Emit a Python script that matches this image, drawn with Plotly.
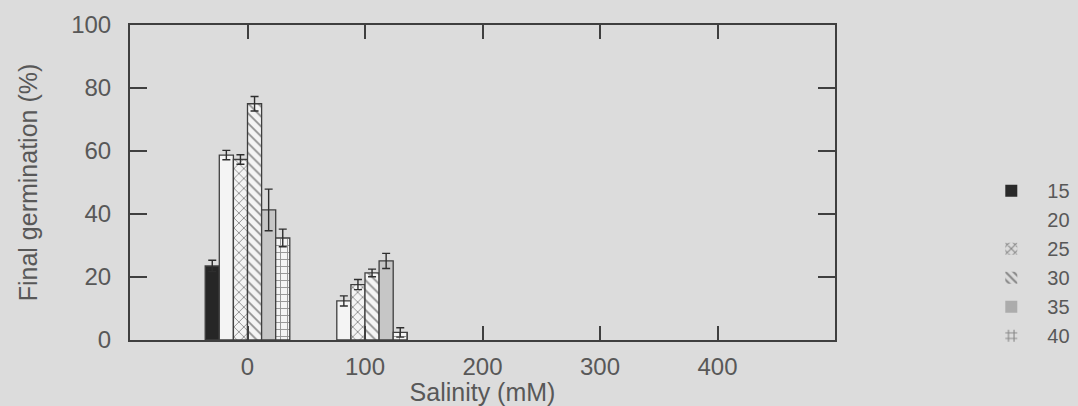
import plotly.graph_objects as go

# Salinity treatments (mM) and temperature series (°C)
salinity = [0, 100]
temps = ["15", "20", "25", "30", "35", "40"]

# Final germination (%) and standard error per temperature
germ_15 = [23.5, None]
germ_20 = [58.7, 12.4]
germ_25 = [57.3, 17.6]
germ_30 = [75.0, 21.3]
germ_35 = [41.3, 25.1]
germ_40 = [32.4, 2.4]

err_15 = [1.8, None]
err_20 = [1.5, 1.6]
err_25 = [1.5, 1.6]
err_30 = [2.3, 1.2]
err_35 = [6.6, 2.4]
err_40 = [2.8, 1.5]

values = [germ_15, germ_20, germ_25, germ_30, germ_35, germ_40]
errors = [err_15, err_20, err_25, err_30, err_35, err_40]

BG = "#dcdcdc"
INK = "#3f3f3f"
TXT = "#585858"
FONT = "Liberation Sans, Arial, sans-serif"

styles = [
    dict(color="#262626", shape="", size=8, fg="#262626"),
    dict(color="#f4f4f4", shape="", size=8, fg="#333333"),
    dict(color="#f4f4f4", shape="x", size=7, fg="#2a2a2a"),
    dict(color="#f4f4f4", shape="\\", size=7, fg="#2a2a2a"),
    dict(color="#c6c6c6", shape="", size=8, fg="#333333"),
    dict(color="#f4f4f4", shape="+", size=7, fg="#333333"),
]

fig = go.Figure()

for name, vals, errs, st in zip(temps, values, errors, styles):
    fig.add_trace(go.Bar(
        x=salinity, y=vals, name=name, showlegend=False,
        marker=dict(color=st["color"],
                    line=dict(color=INK, width=1.3),
                    pattern=dict(shape=st["shape"], size=st["size"],
                                 fgcolor=st["fg"], bgcolor=st["color"],
                                 solidity=0.25)),
        error_y=dict(type="data", array=errs, visible=True,
                     color="#2e2e2e", thickness=1.4, width=4),
    ))

# Legend keys: small pattern swatches without outlines, on a hidden axis pair
legend_fill = ["#2a2a2a", "rgba(0,0,0,0)", BG, BG, "#acacac", BG]
for name, st, fill in zip(temps, styles, legend_fill):
    fig.add_trace(go.Bar(
        x=[0], y=[0], name=name, xaxis="x2", yaxis="y2",
        marker=dict(color=fill, line=dict(width=0),
                    pattern=dict(shape=st["shape"], size=7,
                                 fgcolor="#2e2e2e", bgcolor=fill,
                                 solidity=0.35)),
    ))

axis_common = dict(
    showline=True, linecolor=INK, linewidth=2, mirror="ticks",
    ticks="inside", tickcolor=INK, tickwidth=2,
    showgrid=False, zeroline=False,
    tickfont=dict(family=FONT, size=24, color=TXT),
)

fig.update_layout(
    width=1078, height=406,
    margin=dict(l=130, r=243, t=25, b=66, autoexpand=False),
    paper_bgcolor=BG, plot_bgcolor=BG,
    barmode="group", bargap=0.28, bargroupgap=0,
    font=dict(family=FONT, size=22, color=TXT),
    xaxis=dict(range=[-100, 500], tickvals=[0, 100, 200, 300, 400],
               ticklen=14, ticklabelstandoff=4,
               title=dict(text="Salinity (mM)", standoff=2,
                          font=dict(family=FONT, size=25, color=TXT)),
               **axis_common),
    yaxis=dict(range=[0, 100], tickvals=[0, 20, 40, 60, 80, 100],
               ticklen=17, ticklabelstandoff=12,
               title=dict(text="Final germination (%)", standoff=26,
                          font=dict(family=FONT, size=25, color=TXT)),
               **axis_common),
    xaxis2=dict(overlaying="x", visible=False, range=[10, 11]),
    yaxis2=dict(overlaying="y", visible=False, range=[10, 11]),
    legend=dict(x=1.199, xanchor="left", y=0.244, yanchor="middle",
                itemwidth=62, tracegroupgap=0, bgcolor="rgba(0,0,0,0)",
                font=dict(family=FONT, size=20, color=TXT)),
)

fig.write_html("out.html")
